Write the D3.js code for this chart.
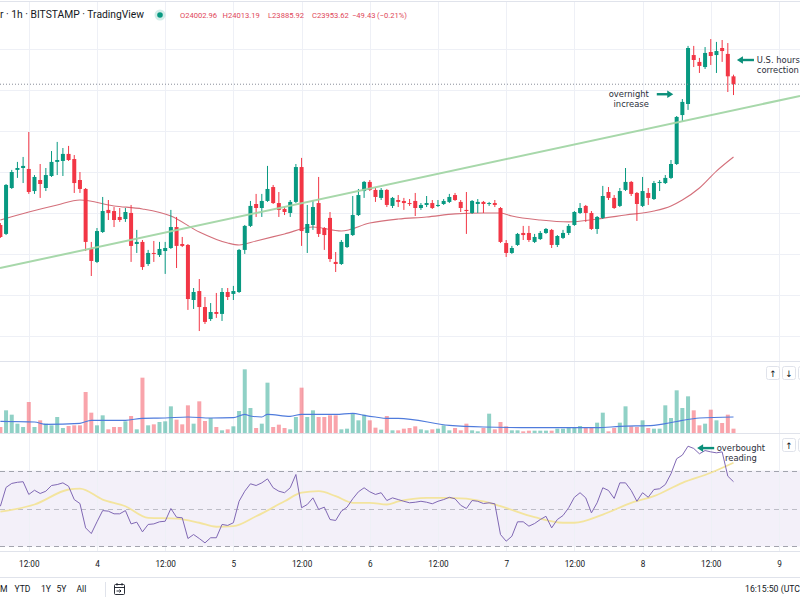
<!DOCTYPE html>
<html><head><meta charset="utf-8">
<script src="https://cdn.jsdelivr.net/npm/d3@7"></script>
<style>
html,body{margin:0;padding:0;background:#fff;overflow:hidden}
svg{display:block}
</style></head><body>
<svg id="c" width="800" height="600"></svg>
<script>
// ---------------- DATA ----------------
const HOUR = 3600e3;
const startTime = Date.UTC(2022, 7, 3, 7);      // first visible 1h bar (UTC)
const viewStart = Date.UTC(2022, 7, 3, 6, 56);  // visible time window
const viewEnd   = Date.UTC(2022, 7, 9, 3, 42);

const open = [
23074,23018,23305,23418,23430,23424,23286,23355,23305,23380,
23468,23474,23518,23486,23355,23299,22924,22843,23030,23168,
23161,23124,23111,23149,22955,22968,22830,22899,22886,22911,
22930,23061,22955,22949,22605,22661,22561,22486,22530,22518,
22655,22643,22655,22918,23068,23205,23180,23224,23311,23211,
23174,23149,23218,23436,23024,23074,23211,23055,23118,22843,
22830,22936,23011,23136,23286,23343,23293,23243,23293,23193,
23230,23224,23211,23224,23180,23199,23211,23193,23205,23218,
23261,23218,23168,23149,23205,23218,23205,23211,23180,22961,
22899,22949,23024,23024,22968,22986,23024,23043,22949,22993,
23024,23074,23149,23193,23149,23049,23118,23280,23243,23193,
23293,23343,23274,23193,23274,23236,23336,23336,23368,23455,
23761,23830,24136,24093,24061,24155,24136,24180,24143,24002.96];
const high = [
23086,23330,23418,23468,23499,23655,23386,23455,23430,23536,
23593,23555,23568,23511,23405,23305,22968,23055,23249,23230,
23186,23180,23180,23199,23043,22980,22918,22974,22968,22968,
23168,23124,22999,22955,22680,22736,22624,22586,22649,22680,
22680,22693,22924,23074,23224,23268,23268,23443,23324,23280,
23186,23230,23455,23493,23199,23230,23374,23061,23155,22905,
22980,23018,23255,23299,23349,23355,23305,23305,23299,23249,
23261,23243,23236,23274,23211,23255,23230,23230,23236,23268,
23274,23230,23280,23230,23236,23224,23218,23230,23186,22980,
22943,23024,23068,23068,23018,23036,23055,23049,23011,23043,
23080,23161,23211,23199,23161,23130,23318,23311,23261,23305,
23430,23349,23280,23374,23305,23349,23355,23386,23480,23755,
23861,24193,24193,24118,24186,24236,24218,24230,24211,24013.19];
const low = [
22993,23011,23299,23368,23336,23268,23268,23243,23286,23374,
23386,23380,23474,23274,23274,22911,22755,22836,23024,23105,
23061,23093,23093,22843,22899,22793,22818,22843,22874,22768,
22924,22805,22936,22543,22549,22411,22455,22474,22493,22474,
22605,22605,22649,22893,23061,23124,23124,23218,23205,23124,
23136,23124,23211,22943,22899,23043,22999,22918,22843,22780,
22824,22930,23005,23130,23243,23286,23218,23230,23186,23180,
23186,23168,23193,23130,23168,23186,23174,23186,23199,23211,
23224,23155,23018,23143,23149,23149,23193,23186,22961,22874,
22893,22943,22980,22968,22961,22980,23018,22930,22936,22986,
23011,23068,23143,23093,23043,23018,23111,23230,23174,23186,
23286,23255,23099,23186,23199,23230,23286,23330,23361,23449,
23724,23793,24061,24024,24049,24074,24024,24093,23905,23885.92];
const close = [
22999,23324,23405,23430,23443,23280,23374,23330,23386,23468,
23480,23518,23480,23336,23299,22968,22849,23036,23161,23149,
23105,23105,23155,22943,22968,22811,22899,22893,22924,22930,
23061,22943,22943,22611,22655,22561,22468,22530,22518,22655,
22624,22661,22918,23068,23193,23180,23224,23299,23211,23168,
23155,23218,23436,23036,23080,23186,23018,23011,22861,22830,
22968,23018,23136,23261,23343,23293,23249,23293,23199,23243,
23218,23211,23205,23180,23199,23211,23180,23199,23224,23249,
23230,23180,23161,23224,23218,23205,23211,23199,22968,22899,
22930,23018,23011,22980,22999,23024,23049,22949,23005,23024,
23068,23155,23180,23149,23049,23124,23255,23243,23180,23286,
23343,23268,23205,23286,23243,23336,23343,23368,23455,23749,
23843,24180,24105,24068,24149,24130,24161,24161,24003.05,23953.62];
const volume = [
90,340,275,140,90,465,90,190,140,115,
240,75,105,115,115,615,305,115,265,55,
90,90,175,255,55,830,115,130,165,175,
400,200,130,415,140,475,180,225,90,40,
55,100,330,955,375,75,140,755,90,125,
75,55,240,680,240,340,240,240,265,265,
55,65,290,190,275,190,80,50,255,40,
40,65,75,100,55,40,55,65,115,40,
75,40,140,40,25,75,290,55,165,100,
40,40,25,35,35,35,35,35,65,65,
75,90,105,90,75,155,305,25,75,155,
400,100,90,190,75,65,65,415,225,640,
375,550,340,115,140,350,190,150,275,65];
const rsi = [
51.2,61.1,63.2,63.8,64.1,57.4,59.6,57.9,59.1,62.1,
62.6,63.5,61.7,54.7,52.6,39.8,36.8,43.0,48.9,48.6,
47.2,47.2,48.9,41.9,42.8,37.7,41.6,41.9,43.0,43.3,
50.0,45.4,45.1,34.2,36.3,34.2,31.9,34.6,34.6,41.6,
41.1,42.5,53.8,59.1,63.0,62.1,63.5,65.6,60.9,59.1,
58.3,60.9,67.9,50.4,52.1,55.6,49.5,50.7,44.2,43.7,
48.6,50.7,55.1,58.8,60.9,58.8,57.4,58.3,54.2,55.6,
54.7,53.8,53.0,53.3,53.8,53.3,52.5,53.8,54.7,55.9,
55.1,51.7,50.0,54.2,53.8,52.6,53.0,52.5,36.3,32.8,
35.4,43.0,43.0,40.7,42.1,44.2,45.9,39.8,44.2,46.3,
50.4,55.9,58.3,55.6,47.7,53.0,60.9,59.5,55.3,63.5,
63.5,59.5,53.8,58.3,55.9,60.0,60.4,62.6,68.3,76.2,
78.1,82.8,81.6,78.8,80.5,79.8,79.3,79.8,67.0,64.1];

// moving average on price (read at sampled bars)
const maIdx = [0,5,10,14,20,25,30,35,40,42,45,50,55,60,65,70,75,80,85,88,90,95,100,105,110,115,118,120,123,126,129];
const maVal = [23105,23155,23199,23230,23193,23174,23130,23030,22961,22949,22974,23018,23061,23036,23086,23111,23124,23143,23149,23149,23130,23105,23093,23111,23136,23161,23193,23230,23305,23411,23499];
// volume moving average
const volMaIdx = [0,6,8,14,16,22,25,29,33,37,41,43,44,46,47,51,53,59,62,64,66,68,70,79,85,94,105,109,115,117,120,123,129];
const volMaVal = [175,165,130,145,190,190,220,225,240,225,230,280,255,240,280,250,280,280,295,265,240,220,220,115,90,80,80,100,115,140,190,225,240];
// RSI-based moving average
const rsiMaIdx = [0,6,12,14,18,22,26,31,35,38,41,45,50,53,56,59,62,65,68,70,75,79,85,88,94,99,101,106,111,115,120,125,129];
const rsiMaVal = [48.3,52.1,60.0,60.5,54.7,51.2,45.1,44.7,42.5,40.4,40.7,45.9,53.8,58.3,59.1,56.5,53.0,53.0,52.1,53.7,55.6,55.6,53.8,51.2,45.4,42.5,42.5,46.8,53.0,56.5,63.5,68.8,74.1];

// trend line drawing (bar index, price)
const trendIdx = [0, 129];
const trendPrice = [22805, 23791];

// price grid levels
const gridPrices = [24175, 23920, 23663, 23405, 23150, 22893, 22637, 22380];
// RSI levels
const rsiLevels = [70, 50, 30];

// time axis
const tickTimes = ["2022-08-03T12:00Z","2022-08-04T00:00Z","2022-08-04T12:00Z","2022-08-05T00:00Z","2022-08-05T12:00Z","2022-08-06T00:00Z","2022-08-06T12:00Z","2022-08-07T00:00Z","2022-08-07T12:00Z","2022-08-08T00:00Z","2022-08-08T12:00Z","2022-08-09T00:00Z"];
const tickLabels = ["12:00","4","12:00","5","12:00","6","12:00","7","12:00","8","12:00","9"];

// texts
const titleText = "r · 1h · BITSTAMP · TradingView";
const ohlcLetters = ["O","H","L","C"];
const rangeButtons = ["M","YTD","1Y","5Y","All"];
const clockText = "16:15:50 (UTC";

// annotations: anchor at (bar index, price) or (bar index, rsi)
const annPrice = [
  {lines:["U.S. hours","correction"], textBar:133.1, tip:129.6, tail:132.6, value:24105, anchor:"start"},
  {lines:["overnight","increase"], textBar:114.1, tip:118.4, tail:115.5, value:23891, anchor:"end"}
];
const annRsi = [
  {lines:["overbought","reading"], textBar:130.3, tip:122.6, tail:125.6, value:81.8, anchor:"middle"}
];

// ---------------- CHART ----------------
const W = 800;
const FONT = "Roboto, 'Noto Sans', sans-serif";
const UP = "#089981", DN = "#f23645";
const svg = d3.select("#c");
const x = d3.scaleUtc().domain([viewStart, viewEnd]).range([0, W]);
const xb = i => x(startTime + i * HOUR);
const yP = d3.scaleLinear().domain([22223.75, 24480]).range([361, 0]);
const yV = d3.scaleLinear().domain([0, 1080]).range([433, 361]);
const yR = d3.scaleLinear().domain([27.63, 89.74]).range([551, 433]);

const defs = svg.append("defs");
function addClip(id, y0, y1){
  defs.append("clipPath").attr("id", id).append("rect")
    .attr("x",0).attr("y",y0).attr("width",W).attr("height",y1-y0);
}
addClip("cMain", 2, 361); addClip("cVol", 361, 433); addClip("cRsi", 433, 551);

svg.append("rect").attr("width",W).attr("height",600).attr("fill","#fff");

// RSI band
svg.append("rect").attr("x",0).attr("width",W)
  .attr("y", yR(70)).attr("height", yR(30)-yR(70)).attr("fill","rgba(126,87,194,0.09)");

// grid
const grid = svg.append("g").attr("stroke","#eef0f6").attr("stroke-width",1);
const tickDates = tickTimes.map(t => new Date(t));
grid.selectAll("line.v").data(tickDates).join("line")
  .attr("x1", d => Math.round(x(d))+0.5).attr("x2", d => Math.round(x(d))+0.5)
  .attr("y1", 2).attr("y2", 551);
grid.selectAll("line.h").data(gridPrices).join("line")
  .attr("x1",0).attr("x2",W)
  .attr("y1", d => Math.round(yP(d))+0.5).attr("y2", d => Math.round(yP(d))+0.5);

// separators
const seps = [1.5, 361.5, 433.5, 551.5, 577.5];
svg.append("g").selectAll("line").data(seps).join("line")
  .attr("x1",0).attr("x2",W).attr("y1",d=>d).attr("y2",d=>d)
  .attr("stroke","#e0e3eb").attr("stroke-width",1);

// ---- main pane
const main = svg.append("g").attr("clip-path","url(#cMain)");
const bars = d3.range(open.length).map(i => ({i, o:open[i], h:high[i], l:low[i], c:close[i], v:volume[i], up: close[i] >= open[i]}));

// price MA
main.append("path")
  .datum(maIdx.map((b,k)=>[b, maVal[k]]))
  .attr("fill","none").attr("stroke","#d4707b").attr("stroke-width",1.1)
  .attr("d", d3.line().x(d=>xb(d[0])).y(d=>yP(d[1])).curve(d3.curveMonotoneX));

// candles
const cg = main.append("g");
cg.selectAll("line").data(bars).join("line")
  .attr("x1", d=>xb(d.i)).attr("x2", d=>xb(d.i))
  .attr("y1", d=>yP(d.h)).attr("y2", d=>yP(d.l))
  .attr("stroke", d=>d.up?UP:DN).attr("stroke-width",1);
cg.selectAll("rect").data(bars).join("rect")
  .attr("x", d=>xb(d.i)-2).attr("width",4)
  .attr("y", d=>yP(Math.max(d.o,d.c)))
  .attr("height", d=>Math.max(1, Math.abs(yP(d.o)-yP(d.c))))
  .attr("fill", d=>d.up?UP:DN);

// last price dotted line
const last = bars[bars.length-1];
main.append("line").attr("x1",0).attr("x2",W)
  .attr("y1", yP(last.c)).attr("y2", yP(last.c))
  .attr("stroke","#8a8e99").attr("stroke-width",1).attr("stroke-dasharray","1,2");

// trend line (extended across pane)
{
  const x0 = xb(trendIdx[0]), x1 = xb(trendIdx[1]);
  const y0 = yP(trendPrice[0]), y1 = yP(trendPrice[1]);
  const s = (y1-y0)/(x1-x0);
  main.append("line").attr("x1",0).attr("y1", y0 + s*(0-x0))
    .attr("x2",W).attr("y2", y0 + s*(W-x0))
    .attr("stroke","#a3d6a6").attr("stroke-width",2).attr("opacity",0.95);
}

// ---- volume pane
const vol = svg.append("g").attr("clip-path","url(#cVol)");
vol.selectAll("rect").data(bars).join("rect")
  .attr("x", d=>xb(d.i)-2).attr("width",4)
  .attr("y", d=>yV(d.v)).attr("height", d=>yV(0)-yV(d.v))
  .attr("fill", d=>d.up?"rgba(8,153,129,0.45)":"rgba(242,54,69,0.45)");
vol.append("path")
  .datum(volMaIdx.map((b,k)=>[b, volMaVal[k]]))
  .attr("fill","none").attr("stroke","#4f7bdc").attr("stroke-width",1.1)
  .attr("d", d3.line().x(d=>xb(d[0])).y(d=>yV(d[1])).curve(d3.curveMonotoneX));

// ---- RSI pane
const rp = svg.append("g").attr("clip-path","url(#cRsi)");
rp.selectAll("line.lvl").data(rsiLevels).join("line")
  .attr("x1",0).attr("x2",W)
  .attr("y1", d=>Math.round(yR(d))+0.5).attr("y2", d=>Math.round(yR(d))+0.5)
  .attr("stroke","#9a9ca6").attr("stroke-width",1)
  .attr("stroke-dasharray","5,4")
  .attr("opacity", d=> d===50 ? 0.6 : 0.9);
rp.append("path")
  .datum(rsiMaIdx.map((b,k)=>[b, rsiMaVal[k]]))
  .attr("fill","none").attr("stroke","#f3e49e").attr("stroke-width",1.8)
  .attr("d", d3.line().x(d=>xb(d[0])).y(d=>yR(d[1])).curve(d3.curveMonotoneX));
rp.append("path")
  .datum(rsi.map((v,i)=>[i,v]))
  .attr("fill","none").attr("stroke","#8068b4").attr("stroke-width",1)
  .attr("d", d3.line().x(d=>xb(d[0])).y(d=>yR(d[1])));

// ---- annotations
const ANN = "#0b8f7a";
function arrow(g, xTail, xTip, y){
  const dir = Math.sign(xTip - xTail);
  g.append("line").attr("x1",xTail).attr("x2",xTip - dir*4).attr("y1",y).attr("y2",y)
    .attr("stroke",ANN).attr("stroke-width",2.4);
  g.append("path").attr("d", `M${xTip},${y} L${xTip-dir*6},${y-3.8} L${xTip-dir*6},${y+3.8} Z`).attr("fill",ANN);
}
function annotate(list, yScale){
  list.forEach(a => {
    const g = svg.append("g");
    const y = yScale(a.value);
    arrow(g, xb(a.tail), xb(a.tip), y);
    g.selectAll("text").data(a.lines).join("text")
      .attr("x", xb(a.textBar)).attr("y", (d,k) => y + 3.2 + k*10)
      .attr("text-anchor", a.anchor)
      .attr("font-family","'DejaVu Sans', sans-serif").attr("font-size", 8.4)
      .attr("fill","#2a2e39").text(d => d);
  });
}
annotate(annPrice, yP);
annotate(annRsi, yR);

// ---- header legend
svg.append("text").attr("x",0).attr("y",18.3)
  .attr("font-family",FONT).attr("font-size",10.3).attr("fill","#131722").text(titleText);
svg.append("circle").attr("cx",160).attr("cy",15).attr("r",5.5).attr("fill","rgba(8,153,129,0.18)");
svg.append("circle").attr("cx",160).attr("cy",15).attr("r",2.8).attr("fill","#089981");
{
  const f = d3.format(".2f");
  const prev = close[close.length-2];
  const chg = last.c - prev;
  const items = [
    ohlcLetters[0] + f(last.o), ohlcLetters[1] + f(last.h),
    ohlcLetters[2] + f(last.l), ohlcLetters[3] + f(last.c),
    d3.format("+.2f")(chg).replace("+",""), "(" + d3.format(".2f")(chg/prev*100) + "%)"
  ];
  const xs = [180, 222.5, 268, 312, 352, 377];
  svg.append("g").selectAll("text").data(items).join("text")
    .attr("x",(d,i)=>xs[i]).attr("y",17.6)
    .attr("font-family",FONT).attr("font-size",7.6).attr("fill","#e0475a")
    .text(d=>d);
}

// ---- time axis
const ax = svg.append("g").attr("transform","translate(0,551)")
  .call(d3.axisBottom(x).tickValues(tickDates).tickFormat((d,i)=>tickLabels[i]).tickSize(0));
ax.select(".domain").remove();
ax.selectAll("text").attr("dy",0).attr("y",15.5)
  .attr("font-family",FONT).attr("font-size",8.2).attr("fill","#131722");

// ---- bottom toolbar
{
  const xs = [0, 14.5, 41, 56.5, 76.5];
  svg.append("g").selectAll("text").data(rangeButtons).join("text")
    .attr("x",(d,i)=>xs[i]).attr("y",592)
    .attr("font-family",FONT).attr("font-size",8.6).attr("fill","#131722").text(d=>d);
  svg.append("line").attr("x1",105.5).attr("x2",105.5).attr("y1",582).attr("y2",597).attr("stroke","#e0e3eb");
  const ic = svg.append("g").attr("fill","none").attr("stroke","#131722").attr("stroke-width",0.9);
  ic.append("rect").attr("x",114.5).attr("y",584.5).attr("width",10).attr("height",10).attr("rx",1);
  ic.append("line").attr("x1",114.5).attr("x2",124.5).attr("y1",587.5).attr("y2",587.5);
  ic.append("line").attr("x1",117).attr("x2",117).attr("y1",583).attr("y2",585.5);
  ic.append("line").attr("x1",122).attr("x2",122).attr("y1",583).attr("y2",585.5);
  ic.append("path").attr("d","M116.5,591 H121 M119.5,589.5 L121,591 L119.5,592.5");
  svg.append("text").attr("x",745).attr("y",592)
    .attr("font-family",FONT).attr("font-size",8.7).attr("fill","#131722").text(clockText);
}

// ---- pane buttons
function btn(xp, yp, glyph){
  const g = svg.append("g");
  g.append("rect").attr("x",xp+0.5).attr("y",yp+0.5).attr("width",13).attr("height",13).attr("rx",2)
    .attr("fill","#fff").attr("stroke","#e0e3eb");
  if (glyph) g.append("text").attr("x",xp+7).attr("y",yp+10.5).attr("text-anchor","middle")
    .attr("font-family","'DejaVu Sans', sans-serif").attr("font-size",9).attr("fill","#131722").text(glyph);
}
btn(766, 366, "↑"); btn(782, 366, "↓"); btn(798, 366, "");
btn(782, 438, "↑"); btn(798, 438, "");
</script>
</body></html>
